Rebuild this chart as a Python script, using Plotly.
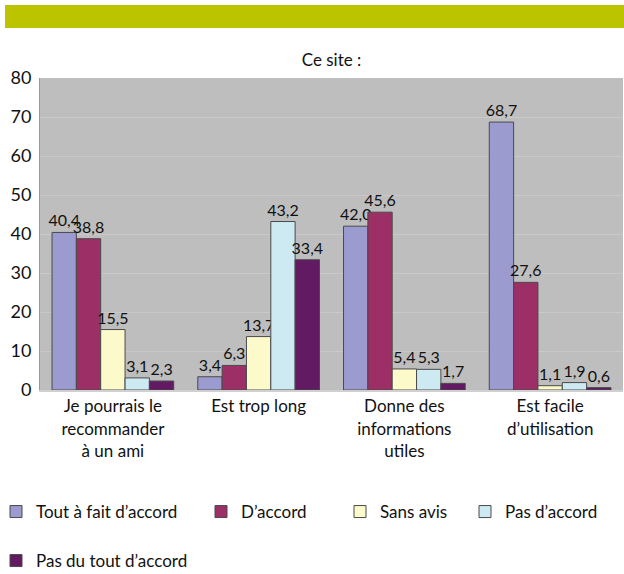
import plotly.graph_objects as go

categories = ["Je pourrais le<br>recommander<br>à un ami", "Est trop long",
              "Donne des<br>informations<br>utiles", "Est facile<br>d’utilisation"]
series_names = ["Tout à fait d’accord", "D’accord", "Sans avis", "Pas d’accord", "Pas du tout d’accord"]
tout_a_fait = [40.4, 3.4, 42.0, 68.7]
d_accord = [38.8, 6.3, 45.6, 27.6]
sans_avis = [15.5, 13.7, 5.4, 1.1]
pas_d_accord = [3.1, 43.2, 5.3, 1.9]
pas_du_tout = [2.3, 33.4, 1.7, 0.6]
series_values = [tout_a_fait, d_accord, sans_avis, pas_d_accord, pas_du_tout]
colors = ["#9b9bd0", "#9c2f66", "#fcfacb", "#cde9f2", "#621a62"]
legend_ids = ["legend", "legend2", "legend3", "legend4", "legend5"]

FONT = "Lato"
L, R, T, B = 40, 1, 78, 184
W, H = 624, 574
PW, PH = W - L - R, H - T - B

def px_x(p):
    return (p - L) / PW

def px_y(p):
    return (H - B - p) / PH

fig = go.Figure()
for name, vals, col, lg in zip(series_names, series_values, colors, legend_ids):
    fig.add_trace(go.Bar(
        x=categories, y=vals, name=name,
        marker=dict(color=col, line=dict(color="#4a4a4a", width=1)),
        text=[f"{v:.1f}".replace(".", ",") for v in vals],
        textposition="outside", cliponaxis=False, constraintext="none",
        textfont=dict(size=16, color="#111111", family=FONT),
        legend=lg,
    ))

legend_pos = [(-4, 512), (201, 512), (340, 512), (465, 512), (-4, 561)]
legend_layout = {}
for lg, (lx, ly) in zip(legend_ids, legend_pos):
    legend_layout[lg] = dict(orientation="h", x=px_x(lx), xanchor="left", y=px_y(ly), yanchor="middle",
                             font=dict(size=17, family=FONT, color="#111111"), itemwidth=30,
                             bgcolor="rgba(0,0,0,0)")

fig.update_layout(
    width=W, height=H,
    margin=dict(l=L, r=R, t=T, b=B, autoexpand=False),
    paper_bgcolor="white", plot_bgcolor="#bebebe",
    barmode="group", bargap=0.165, bargroupgap=0,
    font=dict(family=FONT, size=17, color="#111111"),
    title=dict(text="Ce site :", xref="paper", x=0.5, xanchor="center", y=1 - 60 / H, yanchor="middle",
               font=dict(size=17, family=FONT, color="#111111")),
    showlegend=True,
    shapes=[dict(type="rect", xref="paper", yref="paper",
                 x0=px_x(5), x1=px_x(626),
                 y0=px_y(28), y1=px_y(5),
                 fillcolor="#bcc400", line=dict(width=0), layer="above")],
    **legend_layout,
)
fig.update_yaxes(range=[0, 80], dtick=10, showgrid=True, gridcolor="#c9c9c9", gridwidth=1,
                 zeroline=False, showline=True, linecolor="#999999", ticks="", automargin=False,
                 ticklabelstandoff=4,
                 tickfont=dict(size=18, family=FONT, color="#111111"))
fig.update_xaxes(showline=True, linecolor="#d0d0d0", linewidth=2, ticks="", automargin=False,
                 tickfont=dict(size=17, family=FONT, color="#111111"))

fig.write_html("out.html", config={"displayModeBar": False},
               post_script="document.body.style.margin='0';document.body.style.overflow='hidden';")
